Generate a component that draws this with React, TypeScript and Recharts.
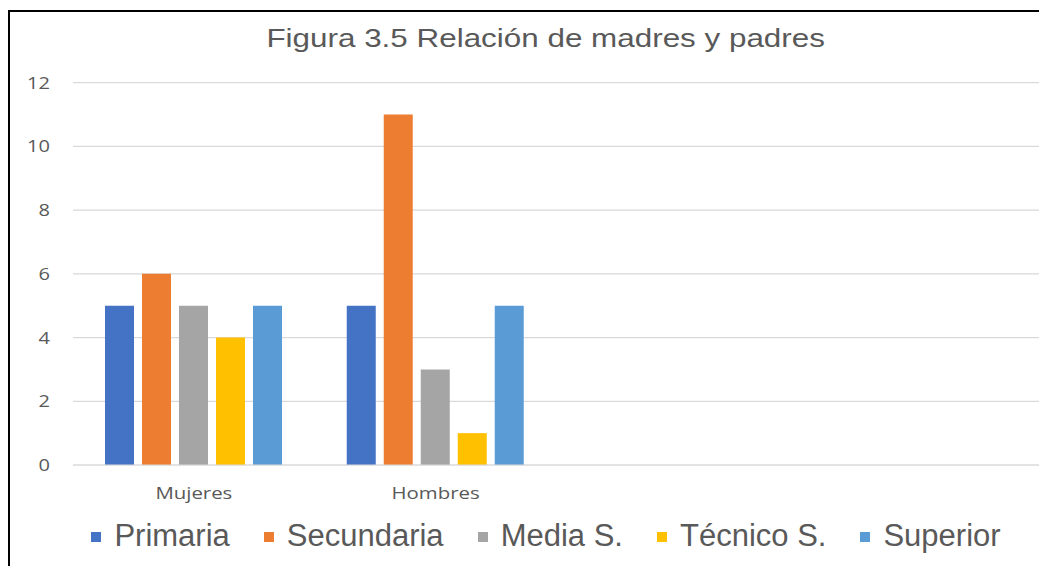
import React from 'react';
import { BarChart, Bar, XAxis, YAxis, CartesianGrid } from 'recharts';

const title = 'Figura 3.5 Relación de madres y padres';
const categories = ['Mujeres', 'Hombres', '', ''];
const primaria = [5, 5, null, null];
const secundaria = [6, 11, null, null];
const mediaS = [5, 3, null, null];
const tecnicoS = [4, 1, null, null];
const superior = [5, 5, null, null];
const yTicks = [0, 2, 4, 6, 8, 10, 12];
const seriesNames = ['Primaria', 'Secundaria', 'Media S.', 'Técnico S.', 'Superior'];
const seriesColors = ['#4472C4', '#ED7D31', '#A5A5A5', '#FFC000', '#5B9BD5'];

const seriesValues = [primaria, secundaria, mediaS, tecnicoS, superior];
const data = categories.map((c, i) => {
  const row: any = { category: c };
  seriesValues.forEach((vals, k) => {
    row['s' + k] = vals[i];
  });
  return row;
});

const TEXT = '#595959';

const YTick = (props: any) => {
  const { x, y, payload } = props;
  return (
    <text
      x={0}
      y={0}
      transform={`translate(${x},${y}) scale(1.18,1)`}
      textAnchor="end"
      dy="0.35em"
      fill={TEXT}
      fontSize={17}
      fontFamily="'Open Sans', sans-serif"
    >
      {payload.value}
    </text>
  );
};

const XTick = (props: any) => {
  const { x, y, payload } = props;
  return (
    <text
      x={0}
      y={26}
      transform={`translate(${x},${y}) scale(1.2,1)`}
      textAnchor="middle"
      fill={TEXT}
      fontSize={17}
      fontFamily="'Open Sans', sans-serif"
    >
      {payload.value}
    </text>
  );
};

export default function App() {
  return (
    <div
      style={{
        position: 'relative',
        width: 1039,
        height: 558,
        overflow: 'hidden',
        background: '#fff',
      }}
    >
      <div
        style={{
          position: 'absolute',
          left: 0,
          top: 2,
          width: 3000,
          height: 3000,
          borderTop: '2px solid #000',
          borderLeft: '2px solid #000',
        }}
      />
      <div
        style={{
          position: 'absolute',
          left: 0,
          top: 17,
          width: 1076,
          textAlign: 'center',
          fontFamily: "'Liberation Sans', Arial, sans-serif",
          fontSize: 26.5,
          lineHeight: 1,
          color: TEXT,
          whiteSpace: 'nowrap',
        }}
      >
        <span style={{ display: 'inline-block', transform: 'scaleX(1.185)' }}>{title}</span>
      </div>
      <div style={{ position: 'absolute', left: 0, top: 0 }}>
        <BarChart
          width={1039}
          height={558}
          data={data}
          margin={{ top: 74.7, right: 7, left: 0, bottom: 71 }}
          barGap={8}
          barCategoryGap={32}
        >
          <CartesianGrid vertical={false} stroke="#d9d9d9" strokeWidth={1.2} />
          <XAxis
            dataKey="category"
            tickLine={false}
            axisLine={{ stroke: '#d9d9d9', strokeWidth: 1.2 }}
            height={30}
            interval={0}
            tick={<XTick />}
          />
          <YAxis
            domain={[0, 12]}
            ticks={yTicks}
            width={65}
            axisLine={false}
            tickLine={false}
            tickMargin={17}
            tick={<YTick />}
          />
          {seriesNames.map((name, k) => (
            <Bar
              key={name}
              dataKey={'s' + k}
              name={name}
              fill={seriesColors[k]}
              isAnimationActive={false}
            />
          ))}
        </BarChart>
      </div>
      <div
        style={{
          position: 'absolute',
          left: 0,
          top: 511.8,
          width: 1076,
          display: 'flex',
          justifyContent: 'center',
          gap: 34,
          fontFamily: "'Liberation Sans', Arial, sans-serif",
          fontSize: 31,
          lineHeight: 1,
          color: TEXT,
          whiteSpace: 'nowrap',
        }}
      >
        {seriesNames.map((name, k) => (
          <div key={name} style={{ display: 'flex', alignItems: 'flex-start' }}>
            <span
              style={{
                display: 'inline-block',
                width: 10,
                height: 10,
                marginTop: 12.5,
                marginRight: 13,
                background: seriesColors[k],
              }}
            />
            <span>{name}</span>
          </div>
        ))}
      </div>
    </div>
  );
}
